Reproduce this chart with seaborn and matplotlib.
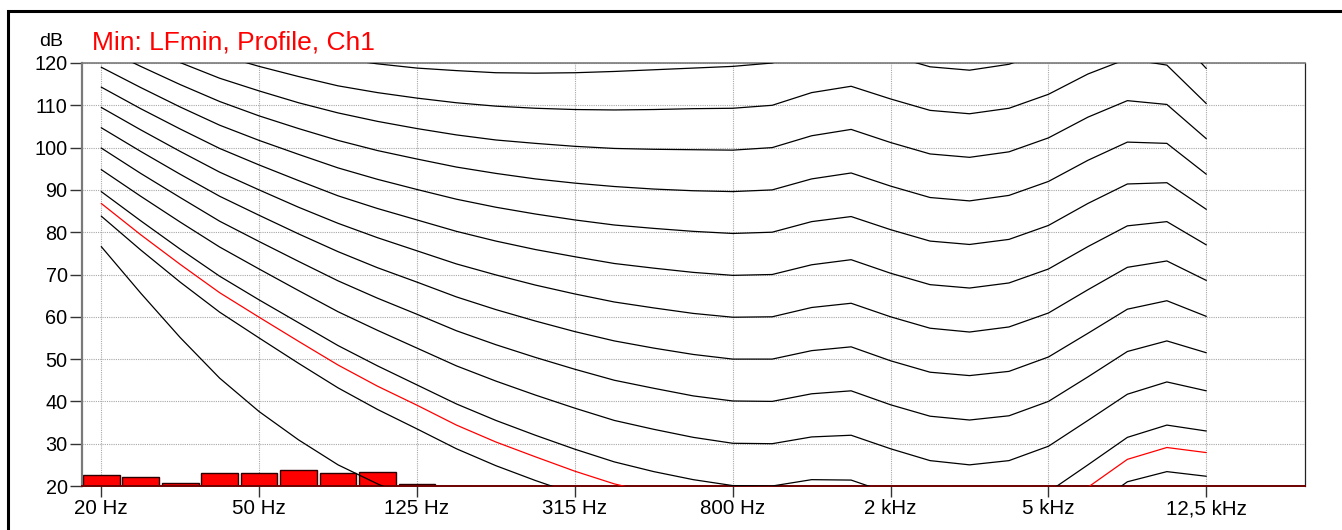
import numpy as np
import pandas as pd
import matplotlib
matplotlib.use("Agg")
import matplotlib.pyplot as plt
import seaborn as sns
from matplotlib.patches import Rectangle

# 1/3 octave bands 20 Hz .. 20 kHz
bands = ["20", "25", "31.5", "40", "50", "63", "80", "100", "125", "160", "200", "250",
         "315", "400", "500", "630", "800", "1000", "1250", "1600", "2000", "2500", "3150",
         "4000", "5000", "6300", "8000", "10000", "12500", "16000", "20000"]
# measured spectrum (dB), values at/below floor given as 20
bar_levels = [22.7, 22.1, 20.6, 23.0, 23.0, 23.7, 23.1, 23.2, 20.5, 20.0, 20.0, 20.0,
              20.0, 20.0, 20.0, 20.0, 20.0, 20.0, 20.0, 20.0, 20.0, 20.0, 20.0,
              20.0, 20.0, 20.0, 20.0, 20.0, 20.0, 20.0, 20.0]

# equal loudness contours, 20 Hz .. 12.5 kHz
phon_0 = [76.6, 65.6, 55.1, 45.5, 37.6, 30.9, 25.0, 20.5, 16.6, 13.1, 10.1, 7.5, 5.1, 3.1, 1.5, 0.3, -0.3, 0.0, 1.0, -1.2, -4.1, -7.0, -9.0, -8.5, -4.5, 3.3, 9.8, 10.5, 8.4]
phon_10 = [83.8, 75.8, 68.2, 61.1, 55.0, 49.0, 43.2, 38.1, 33.5, 28.8, 24.8, 21.3, 18.1, 15.1, 13.0, 11.2, 10.0, 10.0, 11.3, 10.4, 7.3, 4.5, 3.0, 3.8, 7.5, 14.3, 21.0, 23.4, 22.3]
phon_15 = [86.8, 79.4, 72.4, 65.7, 59.9, 54.2, 48.6, 43.6, 39.1, 34.4, 30.4, 26.9, 23.5, 20.5, 18.3, 16.4, 15.1, 15.0, 16.4, 16.0, 12.8, 10.0, 8.7, 9.5, 13.1, 19.7, 26.3, 29.1, 27.9]
phon_20 = [89.6, 82.7, 76.0, 69.6, 64.0, 58.6, 53.2, 48.4, 43.9, 39.4, 35.5, 32.0, 28.7, 25.7, 23.4, 21.5, 20.1, 20.0, 21.5, 21.4, 18.2, 15.4, 14.3, 15.1, 18.6, 25.0, 31.5, 34.4, 33.0]
phon_30 = [94.8, 88.5, 82.4, 76.5, 71.3, 66.2, 61.2, 56.8, 52.6, 48.4, 44.8, 41.5, 38.4, 35.5, 33.4, 31.5, 30.1, 30.0, 31.6, 32.0, 28.8, 26.0, 25.0, 26.0, 29.4, 35.5, 41.7, 44.6, 42.5]
phon_40 = [99.9, 93.9, 88.2, 82.6, 77.8, 73.1, 68.5, 64.4, 60.6, 56.7, 53.4, 50.4, 47.6, 45.0, 43.1, 41.3, 40.1, 40.0, 41.8, 42.5, 39.2, 36.5, 35.6, 36.6, 40.0, 45.8, 51.8, 54.3, 51.5]
phon_50 = [104.7, 99.1, 93.7, 88.5, 84.0, 79.6, 75.4, 71.6, 68.2, 64.7, 61.7, 59.0, 56.5, 54.3, 52.6, 51.1, 50.0, 50.0, 52.0, 52.9, 49.6, 46.9, 46.1, 47.1, 50.5, 56.1, 61.8, 63.8, 60.1]
phon_60 = [109.5, 104.2, 99.1, 94.2, 90.0, 85.9, 82.1, 78.7, 75.6, 72.5, 69.9, 67.5, 65.4, 63.5, 62.1, 60.8, 59.9, 60.0, 62.2, 63.2, 60.0, 57.3, 56.4, 57.6, 60.9, 66.4, 71.7, 73.2, 68.6]
phon_70 = [114.3, 109.2, 104.4, 99.8, 95.9, 92.2, 88.6, 85.6, 82.9, 80.2, 77.9, 75.9, 74.2, 72.6, 71.5, 70.5, 69.8, 70.0, 72.3, 73.5, 70.3, 67.6, 66.8, 68.0, 71.3, 76.6, 81.5, 82.5, 77.0]
phon_80 = [119.0, 114.2, 109.6, 105.3, 101.7, 98.4, 95.2, 92.5, 90.1, 87.8, 85.9, 84.3, 82.9, 81.7, 80.9, 80.2, 79.7, 80.0, 82.5, 83.7, 80.6, 77.9, 77.1, 78.3, 81.6, 86.8, 91.4, 91.7, 85.4]
phon_90 = [123.7, 119.2, 114.9, 110.9, 107.5, 104.5, 101.7, 99.3, 97.3, 95.4, 93.9, 92.6, 91.6, 90.8, 90.2, 89.8, 89.6, 90.0, 92.6, 94.0, 90.9, 88.2, 87.4, 88.7, 92.0, 97.0, 101.3, 101.0, 93.7]
phon_100 = [128.4, 124.2, 120.1, 116.4, 113.4, 110.6, 108.2, 106.2, 104.5, 103.0, 101.8, 101.0, 100.3, 99.8, 99.6, 99.5, 99.4, 100.0, 102.8, 104.3, 101.2, 98.5, 97.7, 99.0, 102.3, 107.2, 111.1, 110.2, 102.1]
phon_110 = [133.1, 129.1, 125.3, 121.9, 119.2, 116.8, 114.6, 113.0, 111.7, 110.6, 109.8, 109.3, 109.0, 108.9, 109.0, 109.2, 109.3, 110.0, 113.0, 114.5, 111.5, 108.8, 108.0, 109.3, 112.6, 117.4, 121.0, 119.5, 110.4]
phon_120 = [137.8, 134.0, 130.5, 127.4, 124.9, 122.9, 121.1, 119.8, 118.8, 118.2, 117.7, 117.6, 117.7, 118.0, 118.4, 118.8, 119.2, 120.0, 123.1, 124.7, 121.8, 119.1, 118.3, 119.7, 123.0, 127.6, 130.8, 128.7, 118.7]

black_curves = {0: phon_0, 10: phon_10, 20: phon_20, 30: phon_30, 40: phon_40, 50: phon_50,
                60: phon_60, 70: phon_70, 80: phon_80, 90: phon_90, 100: phon_100,
                110: phon_110, 120: phon_120}

tick_pos = [0, 4, 8, 12, 16, 20, 24, 28]
tick_labels = ["20 Hz", "50 Hz", "125 Hz", "315 Hz", "800 Hz", "2 kHz", "5 kHz", "12,5 kHz"]

contours = pd.concat([pd.DataFrame({"band": np.arange(len(v)), "dB": v, "phon": p})
                      for p, v in black_curves.items()], ignore_index=True)

sns.set_style("white")
plt.rcParams["font.family"] = ["Liberation Sans", "DejaVu Sans"]

fig = plt.figure(figsize=(13.42, 5.3), dpi=100)
ax = fig.add_axes([81.5 / 1342, 1 - 486 / 530, (1305 - 81.5) / 1342, (486 - 63) / 530])

sns.barplot(x=bands, y=bar_levels, order=bands, color="#ff0000", saturation=1,
            edgecolor="#2a0000", linewidth=1.0, width=0.93, ax=ax, zorder=2)
sns.lineplot(data=contours, x="band", y="dB", units="phon", estimator=None, sort=False,
             color="black", linewidth=0.9, legend=False, ax=ax, zorder=3)
sns.lineplot(x=np.arange(len(phon_15)), y=phon_15, color="#ff0000", linewidth=0.9,
             legend=False, ax=ax, zorder=3)

ax.set_xlim(-0.5, 30.5)
ax.set_ylim(20, 120)
ax.set_yticks(range(20, 121, 10))
ax.set_xticks(tick_pos, tick_labels)
ax.set_xlabel("")
ax.set_ylabel("")
ax.set_axisbelow(True)
ax.grid(True, linestyle=(0, (1, 1)), color="#a8a8a8", linewidth=0.8)
ax.tick_params(axis="both", which="major", bottom=True, left=True, direction="out",
               width=1, color="#333333", labelcolor="black")
ax.tick_params(axis="y", length=9, pad=1, labelsize=14.3)
ax.tick_params(axis="x", length=7.7, pad=2, labelsize=14.8)

ax.spines["left"].set_color("#7a7a7a")
ax.spines["left"].set_linewidth(1.6)
ax.spines["top"].set_color("#7a7a7a")
ax.spines["top"].set_linewidth(1.2)
ax.spines["right"].set_color("#222222")
ax.spines["right"].set_linewidth(0.9)
ax.spines["bottom"].set_color("#6e0000")
ax.spines["bottom"].set_linewidth(1.4)

fig.text(92 / 1342, 1 - 49.5 / 530, "Min: LFmin, Profile, Ch1", color="#ff0000",
         fontsize=19, va="baseline", ha="left")
fig.text(63.5 / 1342, 1 - 45.5 / 530, "dB", color="black", fontsize=14,
         va="baseline", ha="right")

fig.patches.append(Rectangle((7.5 / 1342, -0.1), 1.2, 1.1 - 10.5 / 530, transform=fig.transFigure,
                             fill=False, edgecolor="black", linewidth=2.2, clip_on=False))

fig.savefig("out.png", dpi=100)
